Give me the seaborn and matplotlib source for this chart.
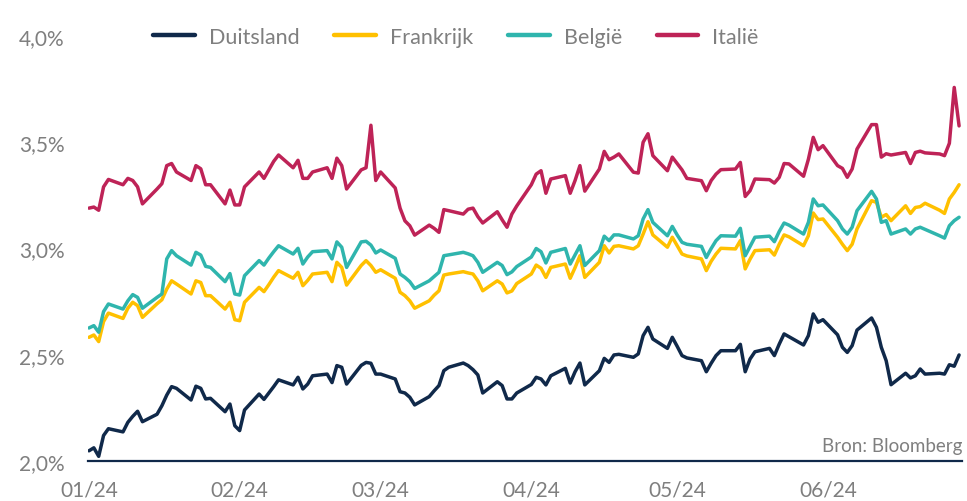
import numpy as np
import pandas as pd
import matplotlib
matplotlib.use("Agg")
import matplotlib.pyplot as plt
import matplotlib.dates as mdates
from matplotlib.ticker import FuncFormatter
import seaborn as sns

# ---------------- data (10-jarige rente, %) ----------------
dates = pd.bdate_range("2024-01-01", "2024-06-28")
countries = ["Duitsland", "Frankrijk", "België", "Italië"]

duitsland = [
    2.048, 2.062, 2.022, 2.120, 2.152,
    2.137, 2.182, 2.210, 2.234, 2.185,
    2.220, 2.260, 2.310, 2.350, 2.342,
    2.287, 2.352, 2.342, 2.292, 2.295,
    2.232, 2.268, 2.166,
    2.143, 2.240,
    2.315, 2.290, 2.320, 2.350, 2.382,
    2.358, 2.394, 2.339, 2.362, 2.401,
    2.409, 2.369, 2.449, 2.441, 2.362,
    2.450, 2.464, 2.460, 2.409,
    2.409,
    2.386, 2.326, 2.320, 2.300, 2.264,
    2.303, 2.330, 2.355, 2.425, 2.441,
    2.461, 2.449, 2.430, 2.405, 2.320,
    2.373, 2.355, 2.292, 2.292, 2.320,
    2.360, 2.394, 2.386, 2.358, 2.401,
    2.436, 2.367, 2.420, 2.461, 2.358,
    2.425, 2.483, 2.464, 2.499, 2.502,
    2.488, 2.504, 2.590, 2.629, 2.574,
    2.530, 2.582,
    2.540, 2.496, 2.485,
    2.472, 2.420, 2.460, 2.496, 2.519,
    2.519, 2.549, 2.420, 2.480, 2.514,
    2.530, 2.496, 2.550, 2.598, 2.585,
    2.546, 2.590, 2.692, 2.653, 2.665,
    2.594, 2.535, 2.511, 2.543, 2.616,
    2.673, 2.629, 2.535, 2.472, 2.359,
    2.413, 2.391, 2.401, 2.433, 2.409,
    2.413, 2.409, 2.453, 2.446, 2.499,
]

frankrijk = [
    2.582, 2.593, 2.562, 2.656, 2.696,
    2.671, 2.719, 2.747, 2.731, 2.676,
    2.740, 2.759, 2.809, 2.848, 2.833,
    2.786, 2.848, 2.840, 2.778, 2.778,
    2.715, 2.747, 2.665,
    2.660, 2.747,
    2.817, 2.797, 2.830, 2.865, 2.896,
    2.860, 2.888, 2.825, 2.850, 2.880,
    2.888, 2.844, 2.935, 2.911, 2.828,
    2.920, 2.943, 2.920, 2.888,
    2.900,
    2.860, 2.794, 2.778, 2.754, 2.719,
    2.754, 2.780, 2.801, 2.875, 2.880,
    2.891, 2.885, 2.880, 2.848, 2.801,
    2.848, 2.833, 2.791, 2.800, 2.835,
    2.880, 2.922, 2.907, 2.864, 2.911,
    2.927, 2.860, 2.910, 2.966, 2.864,
    2.935, 3.013, 2.979, 3.010, 3.013,
    2.998, 3.013, 3.068, 3.126, 3.064,
    3.006, 3.053,
    3.013, 2.974, 2.965,
    2.951, 2.896, 2.940, 2.974, 3.001,
    2.998, 3.037, 2.904, 2.950, 2.990,
    2.994, 2.969, 3.020, 3.064, 3.055,
    3.013, 3.060, 3.167, 3.136, 3.139,
    3.053, 3.020, 2.990, 3.020, 3.092,
    3.225, 3.217, 3.147, 3.160, 3.131,
    3.201, 3.165, 3.193, 3.197, 3.213,
    3.180, 3.165, 3.233, 3.264, 3.300,
]

belgie = [
    2.626, 2.637, 2.606, 2.703, 2.739,
    2.715, 2.754, 2.783, 2.770, 2.719,
    2.770, 2.786, 2.951, 2.990, 2.966,
    2.922, 2.982, 2.969, 2.916, 2.911,
    2.844, 2.882, 2.786,
    2.781, 2.872,
    2.943, 2.922, 2.955, 2.985, 3.013,
    2.974, 3.001, 2.927, 2.960, 2.985,
    2.990, 2.951, 3.031, 3.006, 2.911,
    3.031, 3.034, 3.016, 2.979,
    2.993,
    2.954, 2.880, 2.864, 2.844, 2.812,
    2.848, 2.868, 2.888, 2.966, 2.970,
    2.982, 2.975, 2.966, 2.935, 2.888,
    2.935, 2.920, 2.877, 2.890, 2.915,
    2.960, 3.000, 2.985, 2.932, 2.982,
    3.000, 2.927, 2.970, 3.013, 2.920,
    2.990, 3.058, 3.037, 3.064, 3.064,
    3.045, 3.060, 3.139, 3.183, 3.123,
    3.060, 3.104,
    3.064, 3.029, 3.020,
    3.010, 2.958, 3.000, 3.037, 3.060,
    3.058, 3.095, 2.966, 3.010, 3.053,
    3.058, 3.032, 3.080, 3.120, 3.110,
    3.068, 3.123, 3.233, 3.201, 3.205,
    3.131, 3.092, 3.068, 3.100, 3.178,
    3.269, 3.233, 3.123, 3.131, 3.068,
    3.092, 3.068, 3.092, 3.100, 3.090,
    3.060, 3.049, 3.107, 3.131, 3.147,
]

italie = [
    3.190, 3.195, 3.180, 3.290, 3.325,
    3.300, 3.330, 3.320, 3.290, 3.210,
    3.280, 3.305, 3.390, 3.400, 3.360,
    3.320, 3.390, 3.375, 3.300, 3.300,
    3.210, 3.275, 3.205,
    3.205, 3.290,
    3.360, 3.330, 3.370, 3.410, 3.440,
    3.380, 3.415, 3.330, 3.330, 3.360,
    3.380, 3.330, 3.425, 3.390, 3.280,
    3.370, 3.380, 3.580, 3.320,
    3.360,
    3.285, 3.190, 3.130, 3.107, 3.063,
    3.110, 3.095, 3.076, 3.183, 3.178,
    3.162, 3.185, 3.190, 3.150, 3.120,
    3.173, 3.135, 3.100, 3.162, 3.200,
    3.300, 3.350, 3.366, 3.260, 3.327,
    3.343, 3.260, 3.320, 3.390, 3.270,
    3.374, 3.457, 3.418, 3.430, 3.445,
    3.359, 3.355, 3.500, 3.540, 3.437,
    3.366, 3.430,
    3.400, 3.370, 3.330,
    3.319, 3.272, 3.320, 3.350, 3.371,
    3.374, 3.405, 3.245, 3.272, 3.327,
    3.324, 3.308, 3.335, 3.400, 3.398,
    3.340, 3.420, 3.523, 3.465, 3.484,
    3.390, 3.377, 3.335, 3.374, 3.468,
    3.583, 3.583, 3.430, 3.446, 3.440,
    3.452, 3.400, 3.452, 3.458, 3.450,
    3.445, 3.437, 3.495, 3.758, 3.577,
]

y_ticks = [2.0, 2.5, 3.0, 3.5, 4.0]
source_text = "Bron: Bloomberg"

series = [duitsland, frankrijk, belgie, italie]
for s in series:
    assert len(s) == len(dates), len(s)

df = pd.DataFrame({
    "Datum": np.tile(dates, len(countries)),
    "Land": np.repeat(countries, len(dates)),
    "Rente": np.concatenate(series),
})

# ---------------- style ----------------
palette = {"Duitsland": "#10294a", "Frankrijk": "#ffc000",
           "België": "#2fb5ad", "Italië": "#be2357"}
grey = "#7f7f7f"

sns.set_style("white")
plt.rcParams["font.family"] = ["Lato", "DejaVu Sans"]

fig = plt.figure(figsize=(9.67, 5.02), dpi=100)
ax = fig.add_axes([88 / 967, 40 / 502, 874 / 967, 425 / 502])

sns.lineplot(data=df, x="Datum", y="Rente", hue="Land", hue_order=countries,
             palette=palette, linewidth=2.5, ax=ax, legend=True)
for ln in ax.get_lines():
    ln.set_solid_joinstyle("round")
    ln.set_solid_capstyle("round")

start = pd.Timestamp("2024-01-01")
ax.set_xlim(start - pd.Timedelta(days=0.2), start + pd.Timedelta(days=179.6))
ax.set_ylim(2.0, 4.0)
ax.set_yticks(y_ticks)
ax.yaxis.set_major_formatter(FuncFormatter(lambda v, p: f"{v:.1f}".replace(".", ",") + "%"))
ax.xaxis.set_major_locator(mdates.MonthLocator())
ax.xaxis.set_major_formatter(mdates.DateFormatter("%m/%y"))

ax.set_xlabel("")
ax.set_ylabel("")
for side in ["top", "right", "left"]:
    ax.spines[side].set_visible(False)
ax.spines["bottom"].set_color("#10294a")
ax.spines["bottom"].set_linewidth(1.6)
ax.tick_params(axis="x", length=0, pad=13, labelsize=15, labelcolor=grey)
ax.tick_params(axis="y", length=0, pad=17, labelsize=15, labelcolor=grey)
ax.grid(False)

handles, labels = ax.get_legend_handles_labels()
ax.get_legend().remove()
leg = fig.legend(handles, labels, loc="center", bbox_to_anchor=(456 / 967, 1 - 38 / 502),
                 ncol=4, frameon=False, fontsize=15.5, handlelength=1.95,
                 handletextpad=0.65, columnspacing=1.6, labelcolor=grey)
for h in leg.legend_handles:
    h.set_linewidth(3.2)
    h.set_solid_capstyle("round")

fig.text(962 / 967, 1 - 447 / 502, source_text, ha="right", va="center",
         fontsize=13.5, color=grey)

fig.savefig("out.png", dpi=100)
